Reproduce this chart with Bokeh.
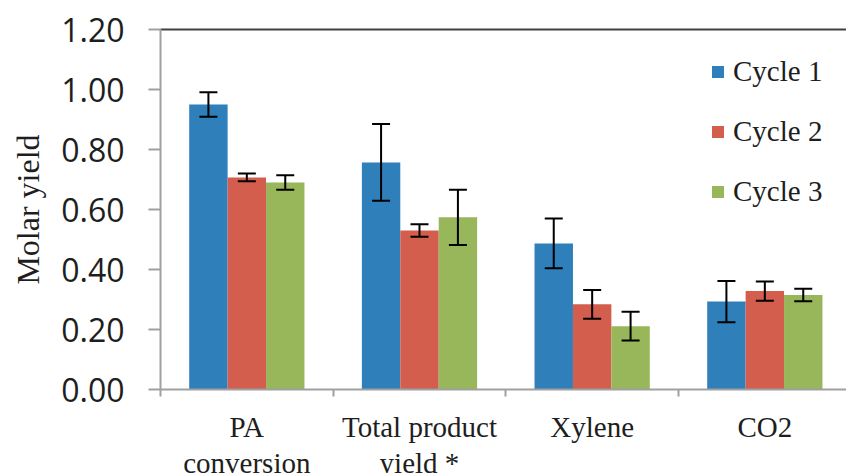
from bokeh.plotting import figure
from bokeh.layouts import column
from bokeh.models import (ColumnDataSource, Range1d, FixedTicker, NumeralTickFormatter,
                          Whisker, TeeHead, Legend, LegendItem, LinearAxis)
from bokeh.core.properties import value
from bokeh.embed import file_html
from bokeh.resources import INLINE

categories = ["PA\nconversion", "Total product\nyield *", "Xylene", "CO2"]
series = ["Cycle 1", "Cycle 2", "Cycle 3"]
cycle1 = [0.950, 0.757, 0.487, 0.293]
cycle2 = [0.707, 0.530, 0.284, 0.328]
cycle3 = [0.690, 0.574, 0.211, 0.315]
err1 = [0.041, 0.128, 0.083, 0.069]
err2 = [0.013, 0.021, 0.048, 0.032]
err3 = [0.024, 0.092, 0.048, 0.021]
y_ticks = [0.0, 0.2, 0.4, 0.6, 0.8, 1.0, 1.2]

colors = ["#2E7FBA", "#D35E4E", "#98B65A"]
values = [cycle1, cycle2, cycle3]
errors = [err1, err2, err3]
TXT = "#1E1E1E"
AX = "#A0A0A0"

W = 846
H_MAIN = 410
H_LAB = 473 - H_MAIN

p = figure(width=W, height=H_MAIN, output_backend="svg", toolbar_location=None,
           x_range=Range1d(0, 3.973), y_range=Range1d(0, 1.2),
           min_border_left=160, min_border_right=0, min_border_top=29, min_border_bottom=21)
p.outline_line_color = None
p.xgrid.visible = False
p.ygrid.visible = False
p.background_fill_color = "white"
p.border_fill_color = "white"

centers = [i + 0.5 for i in range(len(categories))]
bw = 0.2225
offsets = [-bw, 0.0, bw]

items = []
for k in range(3):
    xs = [c + offsets[k] for c in centers]
    src = ColumnDataSource(dict(x=xs, top=values[k],
                                upper=[v + e for v, e in zip(values[k], errors[k])],
                                lower=[v - e for v, e in zip(values[k], errors[k])]))
    r = p.vbar(x="x", top="top", width=bw, bottom=0, source=src,
               fill_color=colors[k], line_color=None)
    items.append(LegendItem(label=series[k], renderers=[r]))
    w = Whisker(base="x", upper="upper", lower="lower", source=src,
                line_color="black", line_width=2, level="annotation",
                upper_head=TeeHead(size=18, line_color="black", line_width=2),
                lower_head=TeeHead(size=18, line_color="black", line_width=2))
    p.add_layout(w)

# bottom x axis (the default one): ticks at category boundaries, no labels
xa = p.below[0]
xa.ticker = FixedTicker(ticks=centers, minor_ticks=[0, 1, 2, 3, 4])
xa.major_label_overrides = {c: "" for c in centers}
xa.major_label_text_font_size = "0px"
xa.major_label_standoff = 0
xa.major_tick_line_color = None
xa.major_tick_out = 0
xa.major_tick_in = 0
xa.minor_tick_out = 7
xa.minor_tick_in = 0
xa.minor_tick_line_color = AX
xa.minor_tick_line_width = 2
xa.axis_line_color = AX
xa.axis_line_width = 2

# top border line via an empty axis above
top_axis = LinearAxis(ticker=FixedTicker(ticks=[], minor_ticks=[]), axis_line_color="#404040",
                      axis_line_width=2, major_tick_line_color=None, minor_tick_line_color=None,
                      major_label_text_font_size="0px", major_label_standoff=0)
p.add_layout(top_axis, "above")

# y axis
ya = p.left[0]
ya.ticker = FixedTicker(ticks=y_ticks)
ya.formatter = NumeralTickFormatter(format="0.00")
ya.major_tick_out = 12
ya.major_tick_in = 0
ya.minor_tick_line_color = None
ya.axis_line_color = AX
ya.axis_line_width = 2
ya.major_tick_line_color = AX
ya.major_tick_line_width = 2
ya.major_label_text_font = "Open Sans"
ya.major_label_text_font_size = "32px"
ya.major_label_text_color = TXT
ya.major_label_standoff = 24
ya.axis_label = "Molar yield"
ya.axis_label_text_font = "Liberation Serif"
ya.axis_label_text_font_size = "32px"
ya.axis_label_text_font_style = "normal"
ya.axis_label_text_color = TXT
ya.axis_label_standoff = 12

legend = Legend(items=items, location=(550, 181), orientation="vertical",
                glyph_width=15, glyph_height=15, label_standoff=8,
                label_text_font="Liberation Serif", label_text_font_size="29px",
                label_text_color=TXT, label_height=29, spacing=27,
                padding=0, margin=0, border_line_color=None, background_fill_alpha=0)
p.add_layout(legend)

# category labels strip, sharing the x range
p2 = figure(width=W, height=H_LAB, output_backend="svg", toolbar_location=None,
            x_range=p.x_range, y_range=Range1d(0, H_LAB),
            x_axis_location=None, y_axis_location=None,
            min_border_left=160, min_border_right=0, min_border_top=0, min_border_bottom=0)
p2.outline_line_color = None
p2.xgrid.visible = False
p2.ygrid.visible = False
p2.background_fill_color = "white"
p2.border_fill_color = "white"
lab_src = ColumnDataSource(dict(x=centers, y=[H_LAB] * len(centers), text=categories))
p2.text(x="x", y="y", text="text", source=lab_src, text_align="center", text_baseline="top",
        text_font=value("Liberation Serif"), text_font_size="29px", text_color=TXT,
        text_line_height=1.14)

layout = column(p, p2, spacing=0)
open("out.html", "w").write(file_html(layout, INLINE))
